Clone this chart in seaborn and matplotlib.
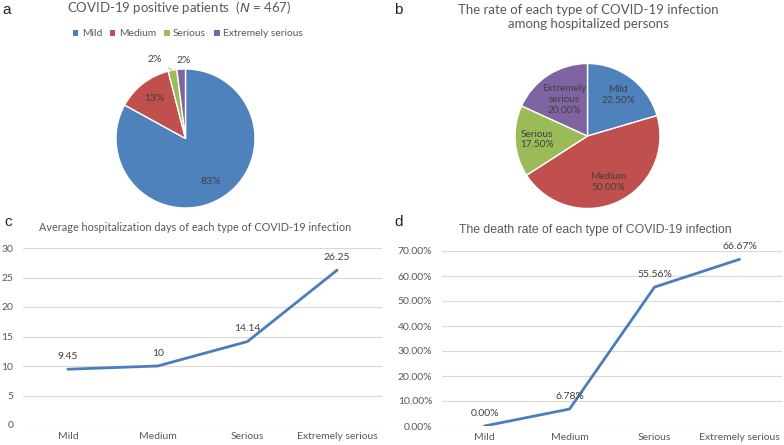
import numpy as np
import pandas as pd
import matplotlib
matplotlib.use("Agg")
import matplotlib.pyplot as plt
import seaborn as sns
from matplotlib.ticker import PercentFormatter
from matplotlib.patches import Patch

# Dados
tipos = ["Mild", "Medium", "Serious", "Extremely serious"]
positivos_pct = [83, 13, 2, 2]
hosp_pct = [22.5, 50.0, 17.5, 20.0]
hosp_rotulos = ["Mild\n22.50%", "Medium\n50.00%", "Serious\n17.50%", "Extremely\nserious\n20.00%"]
dias_internacao = [9.45, 10, 14.14, 26.25]
taxa_morte = [0.0, 0.0678, 0.5556, 0.6667]

cores = ["#4F81BD", "#C0504D", "#9BBB59", "#8064A2"]
azul_linha = "#4A7EBB"
cinza_txt = "#404040"
cinza_eixo = "#595959"
cinza_grade = "#D9D9D9"

sns.set_style("white")
plt.rcParams["font.family"] = ["Lato", "DejaVu Sans"]

W, H = 784, 445
fig = plt.figure(figsize=(W / 100, H / 100), dpi=100)


def caixa(x0, y0, x1, y1):
    # pixels (topo-esquerda) -> fração da figura
    return [x0 / W, 1 - y1 / H, (x1 - x0) / W, (y1 - y0) / H]


# Letras dos painéis
for letra, (px, py) in zip("abcd", [(2, 10), (394, 10), (4, 222), (394, 222)]):
    fig.text(px / W, 1 - py / H, letra, fontsize=11, family="Liberation Sans",
             color="#222222", ha="left", va="center")

# ---------- a: pizza pacientes positivos ----------
ax_a = fig.add_axes(caixa(116, 69, 255, 208))
fatias, _ = ax_a.pie(positivos_pct, colors=cores, startangle=90, counterclock=False,
                     wedgeprops=dict(edgecolor="white", linewidth=1.0))
ax_a.set_xlim(-1, 1)
ax_a.set_ylim(-1, 1)
for i, w in enumerate(fatias):
    ang = np.deg2rad((w.theta1 + w.theta2) / 2)
    c, s = np.cos(ang), np.sin(ang)
    txt = f"{positivos_pct[i]}%"
    if positivos_pct[i] >= 5:
        ax_a.text(0.72 * c, 0.72 * s, txt, ha="center", va="center", fontsize=7.5, color=cinza_txt)
    elif i == 2:
        ax_a.annotate(txt, xy=(c, s), xytext=(-13, 8), textcoords="offset points",
                      ha="center", va="center", fontsize=7.5, color=cinza_txt,
                      arrowprops=dict(arrowstyle="-", color="#A6A6A6", lw=0.6,
                                      shrinkA=3, shrinkB=0))
    else:
        ax_a.annotate(txt, xy=(c, s), xytext=(2, 6), textcoords="offset points",
                      ha="center", va="center", fontsize=7.5, color=cinza_txt)

fig.text(179 / W, 1 - 8 / H, "COVID-19 positive patients  ($\\it{N}$ = 467)",
         ha="center", va="center", fontsize=9.5, color=cinza_eixo)
alcas = [Patch(facecolor=c, edgecolor="none") for c in cores]
fig.legend(alcas, tipos, loc="center", bbox_to_anchor=(188 / W, 1 - 34 / H), ncol=4,
           frameon=False, fontsize=7.4, handlelength=0.5, handleheight=0.5,
           handletextpad=0.35, columnspacing=0.8, labelcolor=cinza_eixo)

# ---------- b: pizza hospitalizados ----------
ax_b = fig.add_axes(caixa(515, 63, 660, 209))
fatias_b, _ = ax_b.pie(hosp_pct, colors=cores, startangle=90, counterclock=False,
                       wedgeprops=dict(edgecolor="white", linewidth=1.0))
ax_b.set_xlim(-1, 1)
ax_b.set_ylim(-1, 1)
for w, rot in zip(fatias_b, hosp_rotulos):
    ang = np.deg2rad((w.theta1 + w.theta2) / 2)
    r = 0.6 if "Extremely" in rot else 0.7
    ax_b.text(r * np.cos(ang), r * np.sin(ang), rot, ha="center", va="center",
              fontsize=7.2, color=cinza_txt, linespacing=1.25)
fig.text(588 / W, 1 - 17 / H, "The rate of each type of COVID-19 infection\namong hospitalized persons",
         ha="center", va="center", fontsize=9.5, color=cinza_eixo, linespacing=1.3)


# ---------- gráficos de linha ----------
def linha(ax, valores, rotulos):
    df = pd.DataFrame({"tipo": tipos, "valor": valores})
    sns.lineplot(data=df, x="tipo", y="valor", ax=ax, color=azul_linha, linewidth=2, sort=False)
    for i, (v, r) in enumerate(zip(valores, rotulos)):
        ax.annotate(r, xy=(i, v), xytext=(0, 6), textcoords="offset points",
                    ha="center", va="bottom", fontsize=7.5, color=cinza_txt)
    ax.set_xlim(-0.5, 3.5)
    ax.set_xlabel("")
    ax.set_ylabel("")
    sns.despine(ax=ax, left=True, bottom=True)
    ax.grid(axis="y", color=cinza_grade, linewidth=0.8)
    ax.set_axisbelow(True)
    ax.tick_params(axis="both", length=0, labelsize=7.5, labelcolor=cinza_eixo)
    ax.tick_params(axis="y", pad=7)
    ax.tick_params(axis="x", pad=5)


ax_c = fig.add_axes(caixa(23, 248, 382, 425))
linha(ax_c, dias_internacao, [f"{v:g}" for v in dias_internacao])
ax_c.set_ylim(0, 30)
ax_c.set_yticks(range(0, 31, 5))
fig.text(195 / W, 1 - 228 / H, "Average hospitalization days of each type of COVID-19 infection",
         ha="center", va="center", fontsize=7.8, color=cinza_eixo)

ax_d = fig.add_axes(caixa(442, 251, 782, 426))
linha(ax_d, taxa_morte, [f"{v * 100:.2f}%" for v in taxa_morte])
ax_d.set_ylim(0, 0.7)
ax_d.set_yticks(np.arange(0, 0.71, 0.1))
ax_d.yaxis.set_major_formatter(PercentFormatter(1, decimals=2))
fig.text(595 / W, 1 - 230 / H, "The death rate of each type of COVID-19 infection",
         ha="center", va="center", fontsize=8.8, color=cinza_eixo, family="Liberation Sans")

fig.savefig("out.png", dpi=100, facecolor="white")
